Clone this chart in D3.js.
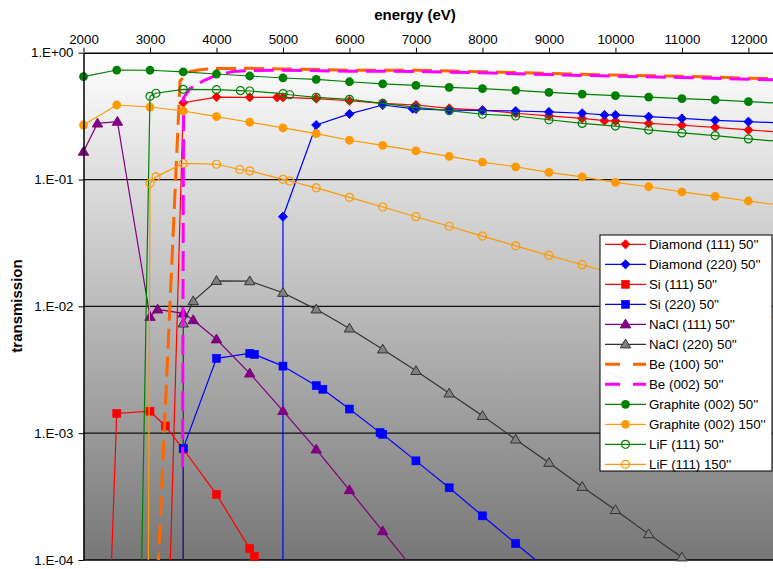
<!DOCTYPE html>
<html>
<head>
<meta charset="utf-8">
<script src="https://cdn.jsdelivr.net/npm/d3@7"></script>
<style>
  body { margin: 0; background: #fff; }
  svg { display: block; font-family: "Liberation Sans", Arial, sans-serif; }
</style>
</head>
<body>
<div id="chart"></div>
<script>
// tick values and labels
const energyTicks = [2000, 3000, 4000, 5000, 6000, 7000, 8000, 9000, 10000, 11000, 12000];
const transTicks = [1, 0.1, 0.01, 0.001, 0.0001];
const transLabels = ['1.E+00', '1.E-01', '1.E-02', '1.E-03', '1.E-04'];

// series names (legend order)
const seriesNames = [
  "Diamond (111) 50''", "Diamond (220) 50''", "Si (111) 50''", "Si (220) 50''",
  "NaCl (111) 50''", "NaCl (220) 50''", "Be (100) 50''", "Be (002) 50''",
  "Graphite (002) 50''", "Graphite (002) 150''", "LiF (111) 50''", "LiF (111) 150''"
];

// data (energy in eV, transmission)
const diamond111E = [3250, 3500, 4000, 4500, 4910, 5000, 5500, 6000, 6500, 7000, 7500, 8000, 8500, 9000, 9500, 9835, 10000, 10500, 11000, 11500, 12000, 12500];
const diamond111T = [9e-6, 0.403, 0.447, 0.445, 0.445, 0.445, 0.435, 0.418, 0.399, 0.387, 0.364, 0.353, 0.333, 0.318, 0.303, 0.291, 0.289, 0.277, 0.268, 0.258, 0.246, 0.236];

const diamond220E = [4999, 5000, 5500, 6000, 6500, 6950, 7000, 7500, 8000, 8500, 9000, 9500, 9835, 10000, 10500, 11000, 11500, 12000, 12500];
const diamond220T = [1e-6, 0.0509, 0.269, 0.329, 0.387, 0.362, 0.36, 0.353, 0.35, 0.347, 0.341, 0.333, 0.323, 0.323, 0.313, 0.303, 0.293, 0.286, 0.279];

const si111E = [2400, 2500, 3000, 3230, 3500, 4000, 4500, 4570, 5000];
const si111T = [4.7e-5, 0.00143, 0.00149, 0.00114, 0.00075, 0.000329, 0.000123, 0.000107, 5e-5];

const si220E = [3499, 3500, 4000, 4500, 4570, 5000, 5500, 5600, 6000, 6460, 6500, 7000, 7500, 8000, 8500, 9000];
const si220T = [1e-6, 0.00076, 0.00389, 0.00426, 0.00418, 0.00338, 0.00237, 0.00222, 0.00155, 0.00101, 0.00098, 0.000605, 0.000371, 0.000223, 0.000135, 8.2e-5];

const nacl111E = [2000, 2210, 2510, 3000, 3115, 3500, 3650, 4000, 4500, 5000, 5500, 6000, 6500, 7000];
const nacl111T = [0.166, 0.277, 0.286, 0.00828, 0.00947, 0.00881, 0.0078, 0.0055, 0.00296, 0.0015, 0.000745, 0.000356, 0.000169, 8e-5];

const nacl220E = [3499, 3500, 3650, 4000, 4500, 5000, 5500, 6000, 6500, 7000, 7500, 8000, 8500, 9000, 9500, 10000, 10500, 11000, 11500];
const nacl220T = [1e-6, 0.00734, 0.011, 0.0159, 0.0158, 0.0128, 0.00947, 0.0067, 0.00458, 0.0031, 0.00206, 0.00137, 0.000893, 0.000585, 0.000378, 0.000248, 0.00016, 0.000105, 6.8e-5];

const be100E = [3100, 3452, 3600, 3750, 4000, 4500, 5000, 6000, 7000, 8000, 9000, 10000, 11000, 12000, 12500];
const be100T = [4.8e-5, 0.60, 0.71, 0.735, 0.75, 0.753, 0.745, 0.728, 0.727, 0.708, 0.686, 0.666, 0.652, 0.63, 0.622];

const be002E = [3490, 3505, 3600, 3800, 4000, 4250, 4500, 5000, 6000, 7000, 8000, 9000, 10000, 11000, 12000, 12500];
const be002T = [0.00054, 0.44, 0.52, 0.60, 0.665, 0.71, 0.722, 0.728, 0.714, 0.712, 0.694, 0.672, 0.652, 0.638, 0.617, 0.61];

const graphiteE = [2000, 2500, 3000, 3500, 4000, 4500, 5000, 5500, 6000, 6500, 7000, 7500, 8000, 8500, 9000, 9500, 10000, 10500, 11000, 11500, 12000, 12500];
const graphite50T = [0.647, 0.73, 0.727, 0.705, 0.679, 0.655, 0.632, 0.617, 0.59, 0.567, 0.553, 0.533, 0.52, 0.505, 0.487, 0.472, 0.458, 0.447, 0.434, 0.424, 0.411, 0.40];
const graphite150T = [0.269, 0.387, 0.373, 0.347, 0.313, 0.283, 0.255, 0.23, 0.204, 0.186, 0.168, 0.152, 0.137, 0.126, 0.114, 0.105, 0.095, 0.0877, 0.080, 0.0737, 0.0677, 0.0625];

const lif50E = [2850, 3000, 3090, 3500, 4000, 4360, 4500, 5000, 5100, 5500, 6000, 6500, 7000, 7500, 8000, 8500, 9000, 9500, 10000, 10500, 11000, 11500, 12000, 12500];
const lif50T = [1.8e-5, 0.453, 0.479, 0.514, 0.511, 0.502, 0.499, 0.475, 0.466, 0.445, 0.429, 0.399, 0.371, 0.349, 0.327, 0.317, 0.296, 0.277, 0.264, 0.246, 0.233, 0.222, 0.209, 0.199];

const lif150E = [2960, 3000, 3090, 3500, 4000, 4350, 4500, 5000, 5100, 5500, 6000, 6500, 7000, 7500, 8000, 8500, 9000, 9500, 10000, 10500, 11000, 11500, 12000, 12500];
const lif150T = [1e-6, 0.0934, 0.105, 0.134, 0.132, 0.120, 0.117, 0.1004, 0.0973, 0.086, 0.0724, 0.0607, 0.0509, 0.0428, 0.0358, 0.030, 0.0252, 0.0213, 0.018, 0.0152, 0.0129, 0.011, 0.0093, 0.0079];

const W = 773, H = 569;
const plot = { left: 83.5, right: 775, top: 52.7, bottom: 560 };

const svg = d3.select('#chart').append('svg')
  .attr('width', W)
  .attr('height', H);

const x = d3.scaleLinear().domain([2000, 12400]).range([plot.left, plot.right]);
const y = d3.scaleLog().domain([1e-4, 1]).range([plot.bottom, plot.top]);

const defs = svg.append('defs');
const grad = defs.append('linearGradient')
  .attr('id', 'bg').attr('x1', 0).attr('y1', 0).attr('x2', 0).attr('y2', 1);
grad.append('stop').attr('offset', '0%').attr('stop-color', '#ffffff');
grad.append('stop').attr('offset', '100%').attr('stop-color', '#777777');

defs.append('clipPath').attr('id', 'clip')
  .append('rect')
  .attr('x', plot.left).attr('y', plot.top)
  .attr('width', plot.right - plot.left).attr('height', plot.bottom - plot.top);

// plot background
svg.append('rect')
  .attr('x', plot.left).attr('y', plot.top)
  .attr('width', plot.right - plot.left).attr('height', plot.bottom - plot.top)
  .attr('fill', 'url(#bg)');

// gridlines
svg.append('g').selectAll('line')
  .data(transTicks.slice(1, 4))
  .join('line')
  .attr('x1', plot.left).attr('x2', plot.right)
  .attr('y1', d => y(d)).attr('y2', d => y(d))
  .attr('stroke', '#111').attr('stroke-width', 1.2);

// bottom border
svg.append('line')
  .attr('x1', plot.left).attr('x2', plot.right)
  .attr('y1', plot.bottom).attr('y2', plot.bottom)
  .attr('stroke', '#000').attr('stroke-width', 1.5);

const series = [
  { e: diamond111E, t: diamond111T, color: '#ff0000', marker: 'diamond' },
  { e: diamond220E, t: diamond220T, color: '#0000ff', marker: 'diamond' },
  { e: si111E, t: si111T, color: '#ff0000', marker: 'square' },
  { e: si220E, t: si220T, color: '#0000ff', marker: 'square' },
  { e: nacl111E, t: nacl111T, color: '#800080', marker: 'triangle' },
  { e: nacl220E, t: nacl220T, color: '#333333', marker: 'triangle', fill: '#808080' },
  { e: be100E, t: be100T, color: '#ff6600', marker: null, dash: true },
  { e: be002E, t: be002T, color: '#ff00ff', marker: null, dash: true },
  { e: graphiteE, t: graphite50T, color: '#008000', marker: 'circle' },
  { e: graphiteE, t: graphite150T, color: '#ff9900', marker: 'circle' },
  { e: lif50E, t: lif50T, color: '#008000', marker: 'ring' },
  { e: lif150E, t: lif150T, color: '#ff9900', marker: 'ring' }
];
series.forEach((s, i) => {
  s.name = seriesNames[i];
  s.points = s.e.map((e, j) => ({ e: e, t: s.t[j] }));
});

const line = d3.line()
  .x(d => x(d.e))
  .y(d => y(d.t));

function drawMarker(g, type, color, fill) {
  if (type === 'diamond') {
    g.append('path').attr('d', 'M0,-4.6L4.6,0L0,4.6L-4.6,0Z')
      .attr('fill', color).attr('stroke', color).attr('stroke-width', 0.8);
  } else if (type === 'square') {
    g.append('rect').attr('x', -4).attr('y', -4).attr('width', 8).attr('height', 8)
      .attr('fill', color).attr('stroke', color).attr('stroke-width', 0.6);
  } else if (type === 'triangle') {
    g.append('path').attr('d', 'M0,-5.2L5.2,3.6L-5.2,3.6Z')
      .attr('fill', fill || color).attr('stroke', color).attr('stroke-width', 1);
  } else if (type === 'circle') {
    g.append('circle').attr('r', 4.4).attr('fill', color);
  } else if (type === 'ring') {
    g.append('circle').attr('r', 4).attr('fill', 'none')
      .attr('stroke', color).attr('stroke-width', 1.2);
  }
}

const seriesG = svg.append('g');
series.forEach(s => {
  const g = seriesG.append('g');
  g.append('path')
    .datum(s.points)
    .attr('clip-path', 'url(#clip)')
    .attr('fill', 'none')
    .attr('stroke', s.color)
    .attr('stroke-width', s.dash ? 3 : 1.2)
    .attr('stroke-dasharray', s.dash ? '20,8' : null)
    .attr('d', line);
  if (s.marker) {
    s.points
      .filter(p => p.t >= 1e-4 && p.t <= 1 && p.e >= 2000 && p.e <= 12400)
      .forEach(p => {
        const m = g.append('g').attr('transform', `translate(${x(p.e)},${y(p.t)})`);
        drawMarker(m, s.marker, s.color, s.fill);
      });
  }
});

// axes
const xAxis = svg.append('g')
  .attr('transform', `translate(0,${plot.top})`)
  .call(d3.axisTop(x).tickValues(energyTicks).tickSize(5).tickSizeOuter(0).tickPadding(4).tickFormat(d3.format('d')));
xAxis.select('.domain').attr('stroke', '#000').attr('stroke-width', 1.5);
xAxis.selectAll('.tick line').attr('stroke', '#000');
xAxis.selectAll('.tick text').attr('font-size', '13.3px').attr('fill', '#000')
  .attr('font-family', '"Liberation Sans", Arial, sans-serif');

const yAxis = svg.append('g')
  .attr('transform', `translate(${plot.left},0)`)
  .call(d3.axisLeft(y).tickValues(transTicks).tickSize(5).tickSizeOuter(0).tickPadding(5)
    .tickFormat((d, i) => transLabels[i]));
yAxis.select('.domain').attr('stroke', '#000').attr('stroke-width', 1.5);
yAxis.selectAll('.tick line').attr('stroke', '#000');
yAxis.selectAll('.tick text').attr('font-size', '13.3px').attr('fill', '#000')
  .attr('font-family', '"Liberation Sans", Arial, sans-serif');

// titles
svg.append('text')
  .attr('x', 415).attr('y', 20)
  .attr('text-anchor', 'middle')
  .attr('font-size', '15px').attr('font-weight', 'bold')
  .text('energy (eV)');

svg.append('text')
  .attr('transform', 'translate(22,306) rotate(-90)')
  .attr('text-anchor', 'middle')
  .attr('font-size', '15px').attr('font-weight', 'bold')
  .text('transmission');

// legend
const legend = svg.append('g').attr('transform', 'translate(600,235)');
legend.append('rect')
  .attr('x', 0).attr('y', 0).attr('width', 172).attr('height', 236)
  .attr('fill', '#fff').attr('stroke', '#000').attr('stroke-width', 1);

series.forEach((s, i) => {
  const row = legend.append('g').attr('transform', `translate(0,${9.3 + i * 20})`);
  row.append('line')
    .attr('x1', 5).attr('x2', 46).attr('y1', 0).attr('y2', 0)
    .attr('stroke', s.color)
    .attr('stroke-width', s.dash ? 3 : 1.2)
    .attr('stroke-dasharray', s.dash ? '15,13' : null);
  if (s.marker) {
    const m = row.append('g').attr('transform', 'translate(25.5,0)');
    drawMarker(m, s.marker, s.color, s.fill);
  }
  row.append('text')
    .attr('x', 49).attr('y', 0)
    .attr('dy', '0.35em')
    .attr('font-size', '13.3px')
    .attr('fill', '#000')
    .text(s.name);
});
</script>
</body>
</html>
